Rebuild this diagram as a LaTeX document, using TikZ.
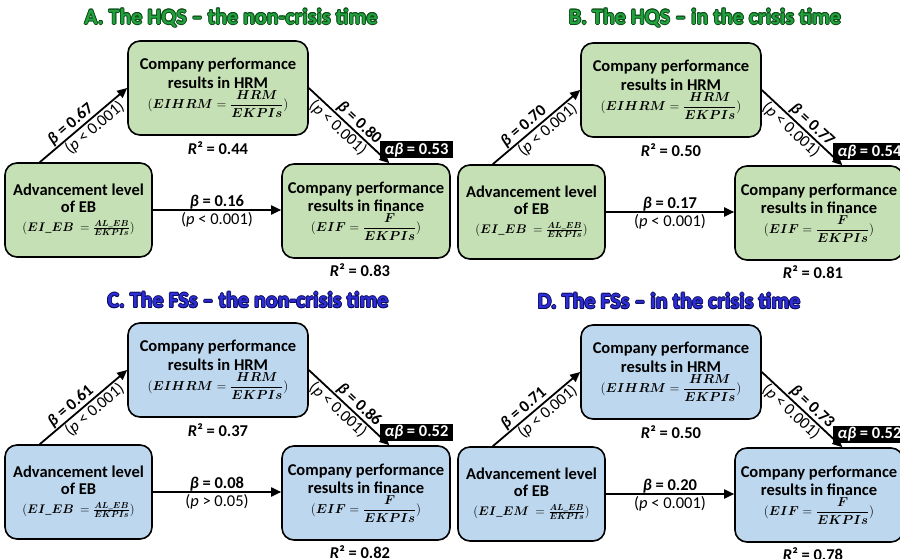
\RequirePackage{fix-cm}
\documentclass[tikz,border=0pt]{standalone}
\usepackage{amsmath}
\usepackage{fontspec}
\usepackage{bm}
\setmainfont{Carlito}
\usetikzlibrary{arrows.meta}

\definecolor{hqsfill}{HTML}{C5E0B4}
\definecolor{fsfill}{HTML}{BDD7EE}
\definecolor{hqstitle}{HTML}{22A23E}
\definecolor{hqsedge}{HTML}{0B4A16}
\definecolor{fstitle}{HTML}{2E2ED8}
\definecolor{fsedge}{HTML}{0C0C5E}

% heading text with a dark rim around a lighter fill
\newcommand\halo[3]{\leavevmode
  \rlap{\color{#1}\hspace*{-0.8pt}#3}\rlap{\color{#1}\hspace*{0.8pt}#3}%
  \rlap{\color{#1}\raisebox{0.8pt}{#3}}\rlap{\color{#1}\raisebox{-0.8pt}{#3}}%
  \rlap{\color{#1}\hspace*{0.6pt}\raisebox{0.6pt}{#3}}\rlap{\color{#1}\hspace*{-0.6pt}\raisebox{-0.6pt}{#3}}%
  \rlap{\color{#1}\hspace*{0.6pt}\raisebox{-0.6pt}{#3}}\rlap{\color{#1}\hspace*{-0.6pt}\raisebox{0.6pt}{#3}}%
  {\color{#2}#3}}

% sizes of the index formulas
\newcommand\eqsize{\fontsize{13}{15}\selectfont\mdseries}
\newcommand\eqsmall{\fontsize{12.5}{14}\selectfont\mdseries}

\tikzset{
  box/.style={draw=black, line width=1.6pt, rounded corners=12pt, align=center,
    inner sep=2pt, font=\fontsize{16.5}{19}\selectfont\bfseries},
  arr/.style={line width=1.8pt, -{Triangle[length=10pt,width=9pt]}},
  coef/.style={font=\fontsize{16.5}{19}\selectfont\bfseries, inner sep=1pt},
  pval/.style={font=\fontsize{16.5}{19}\selectfont, inner sep=1pt},
  rsq/.style={font=\fontsize{16.5}{19}\selectfont\bfseries},
  effect/.style={fill=black, text=white, font=\fontsize{16.5}{19}\selectfont\bfseries,
    inner sep=1pt, minimum width=73pt, minimum height=17pt},
  heading/.style={font=\fontsize{22}{26}\selectfont\bfseries}
}

% values of one mediation panel
\newcommand\setpanel[9]{\def\pfill{#1}\def\bone{#2}\def\pone{#3}\def\btwo{#4}%
  \def\ptwo{#5}\def\bthree{#6}\def\pthree{#7}\def\rhrm{#8}\def\rfin{#9}}

% one mediation panel: #1 prefix, #2 shift, #3 indirect effect, #4 EB index name
\newcommand\panel[4]{%
\begin{scope}[shift={#2}]
  \node[box, fill=\pfill, minimum width=180pt, minimum height=94pt] (#1hrm) at (218,88)
    {Company performance\\results in HRM\\[1pt]
     {\eqsize$(\bm{EIHRM} = \dfrac{\bm{HRM}}{\bm{EKPIs}})$}};
  \node[box, fill=\pfill, minimum width=147pt, minimum height=94pt] (#1eb) at (78.5,210)
    {Advancement level\\[-2pt]of EB\\
     {\eqsmall$(\bm{#4}\ = \frac{\bm{AL\_EB}}{\bm{EKPIs}})$}};
  \node[box, fill=\pfill, minimum width=168pt, minimum height=94pt] (#1fin) at (366,211)
    {Company performance\\[-1pt]results in finance\\[1pt]
     {\eqsize$(\bm{EIF} = \dfrac{\bm{F}}{\bm{EKPIs}})$}};
  \draw[arr] (#1eb.129) --
    node[sloped, above, pos=0.42, coef] {\textit{β} = \bone}
    node[sloped, below, pos=0.56, pval] {\pone}
    (#1hrm.west);
  \draw[arr] (#1hrm.east) --
    node[sloped, above, pos=0.55, coef] {\textit{β} = \btwo}
    node[sloped, below, pos=0.44, pval] {\ptwo}
    (#1fin.64);
  \draw[arr] (#1eb.east) --
    node[above, coef, inner sep=0pt] {\textit{β} = \bthree}
    node[below, pval, inner sep=2pt] {\pthree}
    (#1eb.east -| #1fin.west);
  \node[effect] (#1ab) at (416.5,150) {\textit{αβ} = #3};
  \node[rsq] (#1rh) at (218,148) {\textit{R}² = \rhrm};
  \node[rsq] (#1rf) at (360,270) {\textit{R}² = \rfin};
\end{scope}}

\begin{document}
\begin{tikzpicture}[x=1pt, y=-1pt]
  \useasboundingbox (0,0) rectangle (900,559);
  \clip (0,0) rectangle (900,559);
  \fill[white] (0,0) rectangle (900,559);

  \node[heading] (ta) at (231,18) {\halo{hqsedge}{hqstitle}{A. The HQS – the non-crisis time}};
  \node[heading] (tb) at (705,18) {\halo{hqsedge}{hqstitle}{B. The HQS – in the crisis time}};
  \node[heading] (tc) at (248,300) {\halo{fsedge}{fstitle}{C. The FSs – the non-crisis time}};
  \node[heading] (td) at (669,301) {\halo{fsedge}{fstitle}{D. The FSs – in the crisis time}};

  \setpanel{hqsfill}{0.67}{(\textit{p} < 0.001)}{0.80}{(\textit{p} < 0.001)}{0.16}{(\textit{p} < 0.001)}{0.44}{0.83}
  \panel{a}{(0,0)}{0.53}{EI\_EB}

  \setpanel{hqsfill}{0.70}{(\textit{p} < 0.001)}{0.77}{(\textit{p} < 0.001)}{0.17}{(\textit{p} < 0.001)}{0.50}{0.81}
  \panel{b}{(453,2)}{0.54}{EI\_EB}

  \setpanel{fsfill}{0.61}{(\textit{p} < 0.001)}{0.86}{(\textit{p} < 0.001)}{0.08}{(\textit{p} > 0.05)}{0.37}{0.82}
  \panel{c}{(0,282)}{0.52}{EI\_EB}

  \setpanel{fsfill}{0.71}{(\textit{p} < 0.001)}{0.73}{(\textit{p} < 0.001)}{0.20}{(\textit{p} < 0.001)}{0.50}{0.78}
  \panel{d}{(453,284)}{0.52}{EI\_EM}
\end{tikzpicture}
\end{document}
